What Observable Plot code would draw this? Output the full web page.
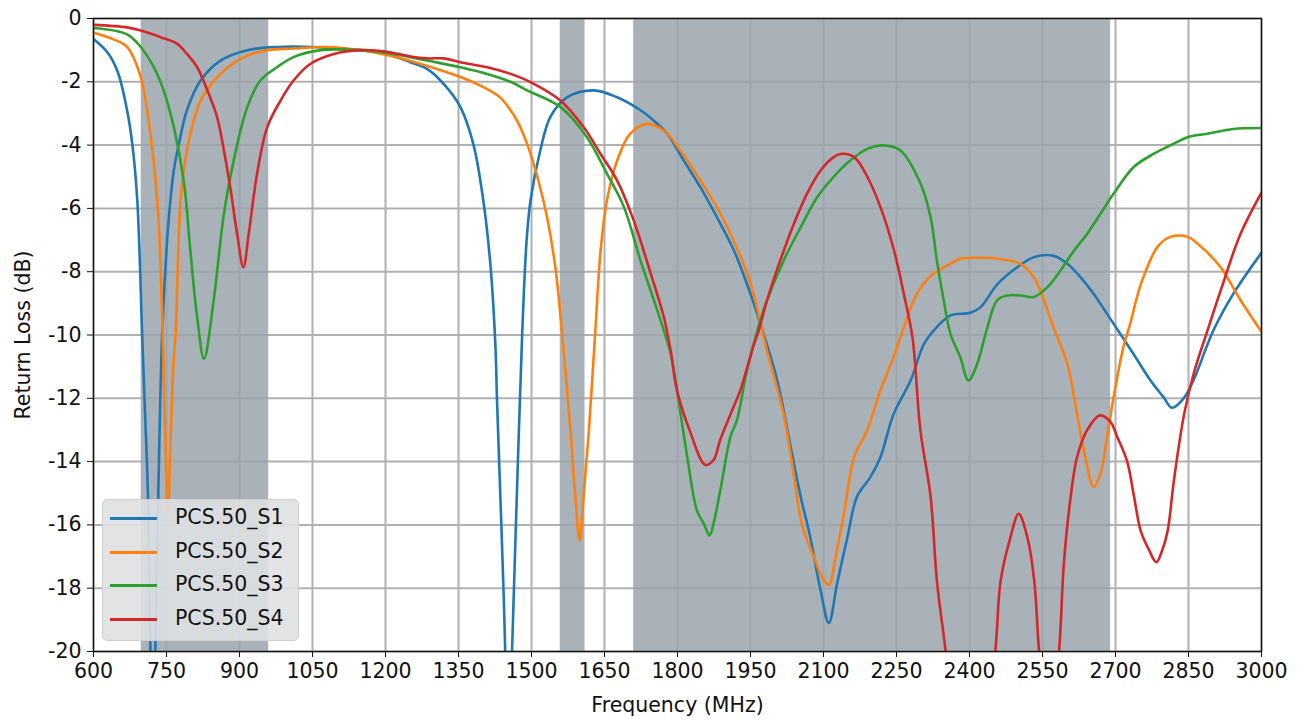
<!DOCTYPE html>
<html>
<head>
<meta charset="utf-8">
<script src="https://cdn.jsdelivr.net/npm/d3@7"></script>
<script src="https://cdn.jsdelivr.net/npm/@observablehq/plot@0.6"></script>
<style>
  html, body { margin: 0; padding: 0; background: white; }
  #wrap { position: relative; width: 1301px; height: 722px; }
  #legend {
    position: absolute; left: 102px; top: 499px; width: 197px; height: 142px;
    box-sizing: border-box; background: rgba(222,224,226,0.9);
    border: 1px solid #cfcfcf; border-radius: 5px;
    font-family: "DejaVu Sans", sans-serif; font-size: 20.5px; color: #111;
  }
  .row { position: absolute; left: 0; height: 30px; }
  .sw { position: absolute; left: 7px; width: 47px; height: 3px; top: 14px; }
  .lbl { position: absolute; left: 72px; top: 2px; white-space: nowrap; }
</style>
</head>
<body>
<div id="wrap"><div id="chart"></div><div id="legend"></div></div>
<script>
// ---- data ----
const seriesNames = ["PCS.50_S1", "PCS.50_S2", "PCS.50_S3", "PCS.50_S4"];
const seriesColors = ["#1f77b4", "#ff7f0e", "#2ca02c", "#d62728"];

const s1Freq = [600,630,650,669,680,690,700,706,712,717,722,727,733,741,750,758,765,775,792,820,861,916,977,1052,1149,1183,1220,1251,1286,1319,1354,1381,1401,1416,1426,1429,1436,1443,1446,1452,1460,1470,1481,1490,1498,1518,1539,1573,1628,1676,1724,1751,1779,1813,1847,1881,1916,1950,1977,2005,2032,2053,2073,2094,2111,2128,2149,2169,2196,2217,2244,2279,2306,2330,2361,2402,2423,2457,2498,2532,2573,2601,2628,2655,2683,2710,2737,2772,2799,2816,2840,2860,2901,2942,3000];
const s1Val  = [-0.65,-1.1,-1.7,-2.9,-4.0,-5.75,-10.0,-12.5,-15.1,-20,-24,-20,-15.1,-10,-7.3,-5.75,-4.8,-4.0,-2.9,-1.96,-1.33,-1.0,-0.9,-0.9,-1.0,-1.05,-1.2,-1.38,-1.6,-2.06,-2.8,-4.0,-5.75,-7.86,-10.4,-12.0,-15.1,-18.3,-20,-24,-20,-15,-9.9,-7,-5.75,-4.17,-3.1,-2.49,-2.27,-2.49,-2.9,-3.22,-3.64,-4.49,-5.33,-6.28,-7.33,-8.7,-9.97,-11.44,-13.5,-15.1,-16.4,-18.07,-19.1,-17.85,-16.4,-15.1,-14.5,-13.86,-12.5,-11.44,-10.3,-9.8,-9.38,-9.3,-9.12,-8.4,-7.86,-7.54,-7.5,-7.75,-8.17,-8.7,-9.34,-9.97,-10.6,-11.44,-11.97,-12.3,-12.0,-11.44,-9.86,-8.7,-7.4];

const s2Freq = [600,640,669,697,717,731,738,742,748,753,758,764,769,774,779,792,820,861,909,957,1011,1080,1149,1217,1286,1354,1401,1436,1457,1470,1491,1512,1532,1549,1563,1580,1590,1599,1607,1618,1631,1642,1655,1676,1703,1738,1772,1806,1847,1881,1915,1950,1984,2018,2038,2056,2080,2097,2111,2125,2142,2163,2190,2217,2244,2262,2292,2326,2361,2381,2423,2464,2505,2532,2553,2575,2601,2621,2638,2655,2669,2683,2696,2716,2731,2752,2787,2813,2848,2875,2916,2957,3000];
const s2Val  = [-0.45,-0.65,-0.9,-1.85,-3.64,-5.75,-7.86,-9.86,-13.5,-15.6,-13.5,-11,-9.86,-7.5,-5.75,-4.17,-2.6,-1.75,-1.22,-1.0,-0.95,-0.9,-1.0,-1.2,-1.5,-1.85,-2.17,-2.5,-2.9,-3.22,-3.96,-5.0,-6.28,-7.86,-9.97,-13.0,-15.1,-16.5,-15.1,-13.0,-9.9,-7.33,-5.75,-4.49,-3.64,-3.33,-3.54,-4.17,-5.12,-5.96,-7.0,-8.38,-10.5,-12.5,-14.3,-16.0,-17.0,-17.65,-17.9,-17.0,-15.65,-13.86,-13.0,-11.75,-10.7,-9.9,-8.7,-8.06,-7.75,-7.59,-7.56,-7.6,-7.75,-8.17,-8.9,-9.86,-10.9,-12.5,-13.86,-14.8,-14.4,-13.2,-11.97,-10.4,-9.6,-8.4,-7.2,-6.9,-6.9,-7.2,-7.86,-8.9,-9.9];

const s3Freq = [600,669,697,724,744,765,786,799,813,827,847,867,888,916,943,977,1011,1066,1149,1217,1286,1354,1409,1457,1491,1560,1614,1655,1690,1724,1758,1786,1799,1819,1840,1854,1866,1874,1888,1909,1922,1943,1964,1984,2018,2053,2087,2121,2155,2190,2223,2258,2299,2320,2333,2347,2361,2381,2398,2416,2436,2457,2478,2505,2532,2560,2587,2615,2642,2669,2696,2737,2778,2819,2848,2889,2942,3000];
const s3Val  = [-0.3,-0.5,-0.9,-1.54,-2.27,-3.43,-5.2,-7.33,-9.44,-10.75,-8.9,-6.28,-4.49,-2.8,-1.96,-1.54,-1.22,-1.0,-1.0,-1.12,-1.33,-1.54,-1.75,-2.0,-2.27,-2.8,-3.75,-4.9,-5.96,-7.65,-9.2,-10.6,-11.75,-13.75,-15.55,-15.96,-16.33,-15.96,-14.9,-13.2,-12.7,-11.1,-9.86,-8.9,-7.65,-6.6,-5.65,-5.0,-4.49,-4.12,-4.01,-4.17,-5.2,-6.28,-7.65,-8.9,-9.97,-10.7,-11.44,-10.9,-9.8,-8.9,-8.75,-8.75,-8.8,-8.49,-7.96,-7.33,-6.8,-6.17,-5.54,-4.7,-4.28,-3.96,-3.75,-3.64,-3.49,-3.46];

const s4Freq = [600,669,697,738,772,792,813,834,854,868,882,895,908,919,936,957,984,1011,1046,1094,1149,1203,1251,1286,1320,1354,1409,1457,1498,1560,1607,1642,1676,1710,1745,1772,1786,1799,1827,1857,1874,1888,1909,1929,1957,1967,1984,2011,2039,2066,2094,2121,2135,2163,2190,2217,2245,2265,2283,2299,2320,2333,2351,2400,2453,2464,2484,2501,2519,2533,2543,2563,2584,2594,2608,2621,2642,2668,2690,2703,2724,2738,2752,2769,2784,2796,2807,2820,2841,2861,2889,2916,2957,3000];
const s4Val  = [-0.2,-0.28,-0.38,-0.59,-0.8,-1.12,-1.54,-2.27,-3.12,-4.17,-5.43,-6.8,-7.86,-6.8,-4.91,-3.43,-2.6,-1.96,-1.43,-1.12,-1.0,-1.05,-1.2,-1.26,-1.26,-1.38,-1.54,-1.75,-2.01,-2.6,-3.43,-4.28,-5.12,-6.38,-8.06,-9.44,-10.5,-11.75,-13.1,-14.1,-13.95,-13.3,-12.5,-11.75,-10.3,-9.86,-8.9,-7.65,-6.49,-5.54,-4.8,-4.38,-4.28,-4.38,-5.0,-5.96,-7.33,-8.7,-10.1,-13.0,-15.1,-17.76,-20,-27,-20,-17.76,-16.4,-15.65,-16.4,-17.76,-20,-23,-20,-17.2,-15.1,-13.86,-13.0,-12.54,-12.75,-13.2,-14.0,-15.1,-16.2,-16.8,-17.18,-16.8,-16.2,-14.6,-12.5,-11.2,-9.86,-8.6,-6.8,-5.5];

const bandStart = [698, 1559, 1710];
const bandEnd   = [960, 1610, 2690];

const xTicks = [600,750,900,1050,1200,1350,1500,1650,1800,1950,2100,2250,2400,2550,2700,2850,3000];
const yTicks = [0,-2,-4,-6,-8,-10,-12,-14,-16,-18,-20];

// ---- build tables ----
const allF = [s1Freq, s2Freq, s3Freq, s4Freq];
const allV = [s1Val, s2Val, s3Val, s4Val];
const data = [];
seriesNames.forEach((name, i) => {
  allF[i].forEach((f, j) => data.push({series: name, f, v: allV[i][j]}));
});
const bands = bandStart.map((s, i) => ({start: s, end: bandEnd[i]}));

const font = "DejaVu Sans, sans-serif";
const chart = Plot.plot({
  width: 1301, height: 722,
  marginLeft: 93, marginRight: 40, marginTop: 18, marginBottom: 71,
  style: {fontFamily: font, fontSize: "20.5px", background: "white", color: "#111"},
  x: {domain: [600, 3000]},
  y: {domain: [-20, 0]},
  color: {domain: seriesNames, range: seriesColors},
  marks: [
    Plot.gridX(xTicks, {stroke: "#b0b0b0", strokeOpacity: 1, strokeWidth: 2}),
    Plot.gridY(yTicks, {stroke: "#b0b0b0", strokeOpacity: 1, strokeWidth: 2}),
    Plot.rect(bands, {x1: "start", x2: "end", fill: "#9aa4ab", fillOpacity: 0.85}),
    Plot.line(data, {x: "f", y: "v", z: "series", stroke: "series", strokeWidth: 2.6, clip: true, curve: "catmull-rom"}),
    Plot.frame({stroke: "#111", strokeWidth: 1.4}),
    Plot.axisX(xTicks, {tickSize: 6, tickPadding: 6, fontSize: 20.5, tickFormat: d => String(d),
      label: "Frequency (MHz)", labelAnchor: "center", labelArrow: "none", labelOffset: 60}),
    Plot.axisY(yTicks, {tickSize: 6, tickPadding: 6, fontSize: 20.5, tickFormat: d => String(d),
      label: "Return Loss (dB)", labelAnchor: "center", labelArrow: "none", labelOffset: 78})
  ]
});
document.getElementById("chart").appendChild(chart);

// ---- legend ----
const leg = document.getElementById("legend");
seriesNames.forEach((name, i) => {
  const row = document.createElement("div");
  row.className = "row";
  row.style.top = (3 + i * 33.7) + "px";
  row.style.width = "100%";
  const sw = document.createElement("div");
  sw.className = "sw"; sw.style.background = seriesColors[i];
  const lb = document.createElement("div");
  lb.className = "lbl"; lb.textContent = name;
  row.appendChild(sw); row.appendChild(lb);
  leg.appendChild(row);
});
</script>
</body>
</html>
